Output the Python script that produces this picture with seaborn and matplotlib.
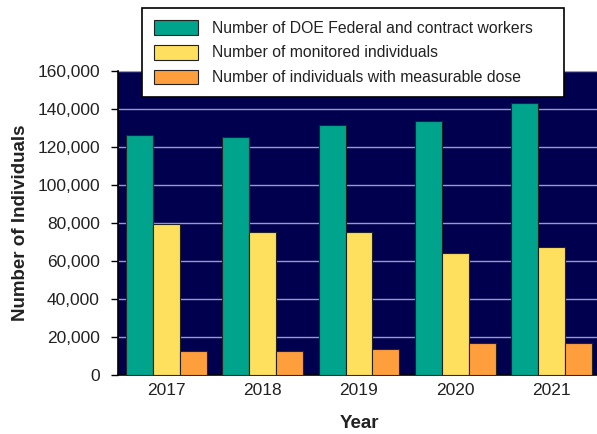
import matplotlib
matplotlib.use("Agg")
import matplotlib.pyplot as plt
from matplotlib.ticker import FuncFormatter, FixedLocator
import seaborn as sns
import pandas as pd

years = ["2017", "2018", "2019", "2020", "2021"]
workers = [126400, 125500, 131800, 133900, 143000]
monitored = [79500, 75300, 75300, 64100, 67600]
measurable = [12700, 12700, 13600, 16900, 16900]
series_names = [
    "Number of DOE Federal and contract workers",
    "Number of monitored individuals",
    "Number of individuals with measurable dose",
]
colors = ["#00A38B", "#FFDF5E", "#FF9E3D"]

df = pd.DataFrame({
    "Year": years * 3,
    "Count": workers + monitored + measurable,
    "Series": [series_names[0]] * 5 + [series_names[1]] * 5 + [series_names[2]] * 5,
})

sns.set_style("white")
plt.rcParams["font.family"] = ["Liberation Sans", "DejaVu Sans"]

fig = plt.figure(figsize=(5.97, 4.34), dpi=100)
ax = fig.add_axes([118 / 597, 59 / 434, 482 / 597, 304 / 434])
ax.set_facecolor("#00004F")

sns.barplot(data=df, x="Year", y="Count", hue="Series", palette=colors,
            width=0.84, edgecolor="#222222", linewidth=0.8, saturation=1,
            ax=ax, zorder=3)

ax.set_ylim(0, 160000)
ax.set_xlim(-0.5, 4.5)
ax.yaxis.set_major_locator(FixedLocator(range(0, 160001, 20000)))
ax.yaxis.set_major_formatter(FuncFormatter(lambda v, p: f"{int(v):,}"))
ax.grid(axis="y", color="#9A9AC8", linewidth=1.0, zorder=1)
ax.set_axisbelow(True)

# tick marks sit between the year groups
ax.xaxis.set_minor_locator(FixedLocator([i - 0.5 for i in range(6)]))
ax.tick_params(axis="x", which="major", length=0, labelsize=12.5, pad=6, colors="#222222")
ax.tick_params(axis="x", which="minor", length=5, width=1, color="black", direction="out")
ax.tick_params(axis="y", which="major", length=5, width=1, color="black", direction="out",
               left=True, labelsize=12.5, labelcolor="#222222", pad=8)

for side in ["top", "right"]:
    ax.spines[side].set_visible(False)
for side in ["left", "bottom"]:
    ax.spines[side].set_color("black")
    ax.spines[side].set_linewidth(1.2)

ax.set_xlabel("Year", fontsize=13.5, fontweight="bold", labelpad=12, color="#222222")
ax.set_ylabel("Number of Individuals", fontsize=13.5, fontweight="bold", labelpad=6, color="#222222")

leg_h = 86 / 304
leg = ax.legend(loc="upper left",
                bbox_to_anchor=(24 / 482, 1 + 63 / 304 - leg_h, 422 / 482, leg_h),
                mode="expand", frameon=True, fancybox=False, framealpha=1, fontsize=11.3,
                handlelength=2.8, handleheight=1.08, handletextpad=0.9,
                borderpad=0.75, labelspacing=0.58, borderaxespad=0)
leg.get_frame().set_edgecolor("black")
leg.get_frame().set_linewidth(1.2)
leg.set_zorder(10)
for t in leg.get_texts():
    t.set_color("#222222")

fig.savefig("out.png", dpi=100)
